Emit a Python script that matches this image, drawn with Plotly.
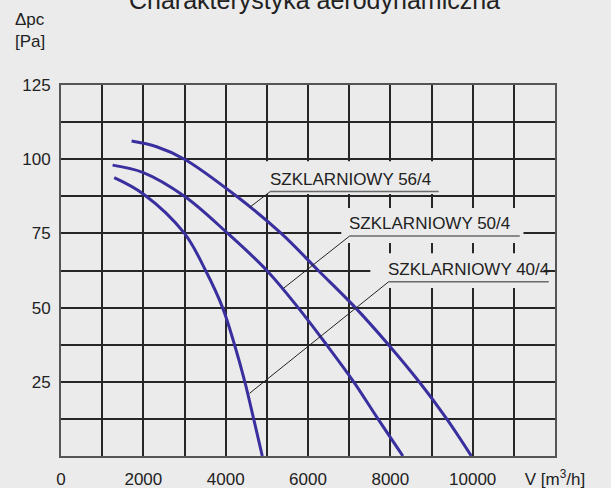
import plotly.graph_objects as go

# ---- data ----
flow_56 = [1715, 2323, 3000, 4267, 5350, 6250, 7150, 7955, 8700, 9370, 9968]
dp_56   = [106.1, 104.2, 100.0, 87.5, 75.0, 62.5, 50.0, 37.5, 25.0, 12.5, 0.0]

flow_50 = [1253, 2000, 3000, 4050, 5000, 5760, 6450, 7110, 7700, 8305]
dp_50   = [98.0, 95.5, 87.5, 75.0, 62.5, 50.0, 37.5, 25.0, 12.5, 0.0]

flow_40 = [1292, 2000, 3000, 3512, 3925, 4215, 4466, 4680, 4890]
dp_40   = [93.8, 88.3, 75.0, 62.5, 50.0, 37.5, 25.0, 12.5, 0.0]

series_names = ["SZKLARNIOWY 56/4", "SZKLARNIOWY 50/4", "SZKLARNIOWY 40/4"]

x_tickvals = list(range(0, 13000, 1000))
x_ticktext = ["0", "", "2000", "", "4000", "", "6000", "", "8000", "", "10000", "",
              "V [m<sup>3</sup>/h]"]
y_tickvals = [i * 12.5 for i in range(11)]
y_ticktext = ["", "", "25", "", "50", "", "75", "", "100", "", "125"]

title_text = "Charakterystyka aerodynamiczna"
y_unit_text = "\u0394pc<br>[Pa]"

# ---- styling ----
BG = "#ebebeb"
CURVE = "#3a2f9e"
GRID = "#262626"
FONT = "Arial, Liberation Sans, sans-serif"

fig = go.Figure()
for fx, fy, name in [(flow_56, dp_56, series_names[0]),
                     (flow_50, dp_50, series_names[1]),
                     (flow_40, dp_40, series_names[2])]:
    fig.add_trace(go.Scatter(x=fx, y=fy, mode="lines", name=name,
                             line=dict(color=CURVE, width=3, shape="spline", smoothing=1.0),
                             showlegend=False, hoverinfo="skip"))

# label boxes (hide grid behind labels), underline + leader line
label_cfg = [
    # name, underline x start, underline y, underline x end, leader end (x,y), box (x0,x1,y0,y1)
    (series_names[0], 5082, 89.1, 9175, (4596, 83.9), (4790, 9216, 88.3, 99.3)),
    (series_names[1], 7010, 74.1, 11144, (5405, 56.5), (6809, 11234, 71.8, 83.6)),
    (series_names[2], 7959, 58.7, 11849, (4579, 21.1), (7514, 11720, 56.6, 68.3)),
]
for name, x0, yu, x1, (lx, ly), (bx0, bx1, by0, by1) in label_cfg:
    fig.add_shape(type="rect", xref="x", yref="y", x0=bx0, x1=bx1, y0=by0, y1=by1,
                  fillcolor=BG, line=dict(width=0), layer="above")
for name, x0, yu, x1, (lx, ly), (bx0, bx1, by0, by1) in label_cfg:
    fig.add_shape(type="line", xref="x", yref="y", x0=x0, x1=x1, y0=yu, y1=yu,
                  line=dict(color="#6a6a6a", width=1.5), layer="above")
    fig.add_shape(type="line", xref="x", yref="y", x0=x0, x1=lx, y0=yu, y1=ly,
                  line=dict(color="#222222", width=1), layer="above")
    fig.add_annotation(x=x0 - 60, y=yu + 0.3, xref="x", yref="y", text=name,
                       showarrow=False, xanchor="left", yanchor="bottom",
                       font=dict(family=FONT, size=17, color="#222222"))

# title and y unit
fig.add_annotation(text=title_text, xref="paper", yref="paper",
                   x=0.514, y=1.0 + 85 / 371, xanchor="center", yanchor="middle",
                   showarrow=False, font=dict(family=FONT, size=25, color="#222222"))
fig.add_annotation(text=y_unit_text, xref="paper", yref="paper",
                   x=(13 - 61) / 494, y=1.0 + (85 - 31) / 371, xanchor="left", yanchor="middle",
                   align="left", showarrow=False,
                   font=dict(family=FONT, size=17, color="#222222"))

fig.update_layout(
    width=611, height=488,
    margin=dict(l=61, r=56, t=85, b=32, autoexpand=False),
    paper_bgcolor=BG, plot_bgcolor=BG,
    font=dict(family=FONT, size=17, color="#222222"),
    showlegend=False,
)
fig.update_xaxes(range=[0, 12000], tickvals=x_tickvals, ticktext=x_ticktext,
                 showgrid=True, gridcolor=GRID, gridwidth=1.5, zeroline=False,
                 showline=True, linecolor="#555555", linewidth=2, mirror=True,
                 ticks="", tickfont=dict(family=FONT, size=17, color="#222222"),
                 ticklabelstandoff=7, fixedrange=True, automargin=False)
fig.update_yaxes(range=[0, 125], tickvals=y_tickvals, ticktext=y_ticktext,
                 showgrid=True, gridcolor=GRID, gridwidth=1.5, zeroline=False,
                 showline=True, linecolor="#555555", linewidth=2, mirror=True,
                 ticks="", tickfont=dict(family=FONT, size=17, color="#222222"),
                 ticklabelstandoff=5, fixedrange=True, automargin=False)

fig.write_html("out.html", config={"displayModeBar": False},
               post_script="document.body.style.margin='0px';document.body.style.overflow='hidden';")
